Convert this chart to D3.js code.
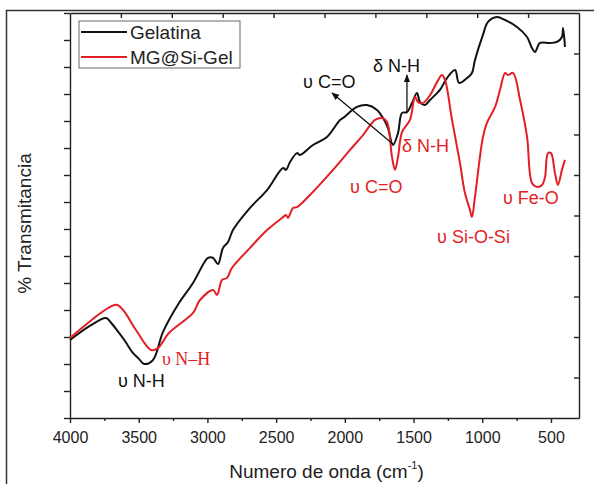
<!doctype html>
<html>
<head>
<meta charset="utf-8">
<title>FTIR Gelatina vs MG@Si-Gel</title>
<script src="https://cdn.jsdelivr.net/npm/d3@7"></script>
<style>
  body { margin: 0; background: #fff; }
  svg { font-family: "Liberation Sans", Arial, sans-serif; }
  .axis path, .axis line { stroke: #222; stroke-width: 1.4; }
  .axis text { font-size: 16px; fill: #222; }
</style>
</head>
<body>
<div id="chart-area"></div>
<script>
// Data (wavenumber in cm-1, transmittance in arbitrary units 0-150)
var seriesNames = ["Gelatina", "MG@Si-Gel"];

var gelWave = [4000, 3847, 3738, 3700, 3643, 3600, 3542, 3500, 3461, 3396, 3323, 3207, 3105, 3025, 2996, 2959, 2923, 2887, 2850, 2814,
    2690, 2566, 2450, 2428, 2399, 2348, 2326, 2232, 2130, 2035, 2013, 1912, 1839, 1766, 1722, 1686, 1650, 1613, 1584,
    1548, 1511, 1475, 1453, 1417, 1380, 1308, 1257, 1198, 1169, 1111, 1075, 1053, 995, 958, 893, 834, 747, 674, 638,
    616, 580, 507, 456, 420, 412, 398];
var gelT = [28.9, 34.4, 37.0, 35.2, 31.5, 28.5, 24.1, 22.0, 20.0, 21.5, 31.9, 42.6, 50.0, 57.4, 59.3, 59.3, 57.0, 63.0, 65.2, 69.6,
    77.8, 84.4, 92.6, 91.9, 94.8, 98.1, 97.4, 101.1, 104.1, 110.4, 111.1, 115.2, 115.9, 114.1, 111.1, 107.4, 101.1, 105.6, 113.0,
    113.3, 116.7, 120.4, 117.0, 115.9, 117.8, 121.5, 125.9, 128.9, 124.1, 125.9, 127.8, 132.6, 141.9, 146.7, 148.5, 147.4, 144.8, 141.1, 137.0,
    135.6, 138.9, 138.9, 139.3, 141.1, 144.4, 137.4];

var mgWave = [4000, 3665, 3614, 3520, 3411, 3360, 3280, 3105, 3054, 2959, 2930, 2894, 2858, 2821, 2690, 2566, 2450, 2428, 2414,
    2377, 2348, 2254, 2086, 1962, 1868, 1780, 1729, 1693, 1657, 1635, 1613, 1584, 1526, 1489, 1467, 1431, 1380, 1329,
    1293, 1271, 1220, 1162, 1126, 1089, 1075, 1053, 995, 966, 907, 871, 834, 813, 776, 725, 674, 638, 602, 565, 543,
    522, 500, 471, 449, 420, 398];
var mgT = [29.6, 41.9, 40.0, 32.6, 25.2, 25.9, 31.5, 38.9, 43.7, 47.4, 45.6, 51.1, 51.9, 55.6, 63.0, 69.6, 74.4, 75.2, 74.1,
    77.8, 78.1, 82.6, 91.9, 99.3, 104.8, 110.4, 111.1, 109.6, 96.7, 91.9, 96.7, 105.9, 110.4, 118.9, 117.0, 116.7, 119.6, 124.4,
    127.0, 125.2, 110.4, 94.4, 83.3, 77.0, 74.4, 81.9, 104.1, 109.3, 115.2, 121.5, 127.8, 127.0, 127.8, 117.8, 104.1, 87.0, 85.6, 86.3, 89.3,
    98.1, 98.1, 90.7, 86.3, 91.9, 95.6];

var xTicks = [4000, 3500, 3000, 2500, 2000, 1500, 1000, 500];
var xMinorTicks = [3750, 3250, 2750, 2250, 1750, 1250, 750];

// band labels: text, wavenumber where the label starts, value of its baseline, series index
var bandText = ["\u03C5 C=O", "\u03B4 N-H", "\u03B4 N-H", "\u03C5 C=O", "\u03C5 Si-O-Si", "\u03C5 Fe-O", "\u03C5 N-H", "\u03C5 N\u2013H"];
var bandWave = [2304, 1795, 1584, 1962, 1329, 849, 3651, 3331];
var bandT = [122.2, 128.1, 98.5, 83.3, 64.8, 79.3, 11.5, 19.6];
var bandSeries = [0, 0, 1, 1, 1, 1, 0, 1];

// arrows: from [wave, T] to [wave, T]
var arrowFrom = [[1642, 101.1], [1548, 113.3]];
var arrowTo = [[2093, 120.4], [1548, 127.0]];

var W = 594, H = 484;
var margin = { left: 70, right: 15, top: 13, bottom: 66 };
var width = W - margin.left - margin.right,
    height = H - margin.top - margin.bottom;

var colors = ["#111111", "#e41e25"];

var svg = d3.select("#chart-area").append("svg").attr("width", W).attr("height", H);

// outer frame
svg.append("path").attr("d", "M6.5," + H + " L6.5,10.5 L" + W + ",10.5")
    .attr("fill", "none").attr("stroke", "#333").attr("stroke-width", 1.5);

var g = svg.append("g").attr("transform", "translate(" + margin.left + "," + margin.top + ")");

var defs = svg.append("defs");
defs.append("marker").attr("id", "arrowhead").attr("viewBox", "0 0 10 10")
    .attr("refX", 9).attr("refY", 5).attr("markerWidth", 8).attr("markerHeight", 8)
    .attr("markerUnits", "userSpaceOnUse").attr("orient", "auto")
    .append("path").attr("d", "M0,1 L10,5 L0,9 Z").attr("fill", "#111");

// Scales
var x = d3.scaleLinear().domain([4000, 296]).range([0, width]);
var y = d3.scaleLinear().domain([0, 150]).range([height, 0]);
var xTop = d3.scaleLinear().domain([0, 10]).range([0, width]);
var yRight = d3.scaleLinear().domain([0, 10]).range([height, 0]);

// Axes
var xAxisCall = d3.axisBottom(x).tickValues(xTicks).tickSizeInner(5).tickSizeOuter(0).tickPadding(9).tickFormat(d3.format("d"));
g.append("g").attr("class", "x axis").attr("transform", "translate(0," + height + ")").call(xAxisCall);
g.append("g").attr("class", "x axis minor").attr("transform", "translate(0," + height + ")")
    .call(d3.axisBottom(x).tickValues(xMinorTicks).tickSizeInner(3).tickSizeOuter(0).tickFormat(""))
    .select(".domain").remove();

g.append("g").attr("class", "x axis top")
    .call(d3.axisTop(xTop).tickValues(d3.range(1, 10)).tickSizeInner(-5).tickSizeOuter(0).tickFormat(""));

var yAxisCall = d3.axisLeft(y).tickValues(d3.range(0, 151, 10)).tickSizeInner(6).tickSizeOuter(0).tickFormat("");
g.append("g").attr("class", "y axis").call(yAxisCall);

g.append("g").attr("class", "y axis right").attr("transform", "translate(" + width + ",0)")
    .call(d3.axisRight(yRight).tickValues(d3.range(1, 10)).tickSizeInner(-5).tickSizeOuter(0).tickFormat(""));

// Lines
var line = d3.line()
    .curve(d3.curveCatmullRom.alpha(0.5))
    .x(function(d){ return x(d[0]); })
    .y(function(d){ return y(d[1]); });

var gelData = d3.zip(gelWave, gelT);
var mgData = d3.zip(mgWave, mgT);

[gelData, mgData].forEach(function(data, i){
    g.append("path").datum(data)
        .attr("fill", "none")
        .attr("stroke", colors[i])
        .attr("stroke-width", 2)
        .attr("stroke-linejoin", "round")
        .attr("d", line);
});

// Arrows
arrowFrom.forEach(function(p, i){
    g.append("line")
        .attr("x1", x(p[0])).attr("y1", y(p[1]))
        .attr("x2", x(arrowTo[i][0])).attr("y2", y(arrowTo[i][1]))
        .attr("stroke", "#111").attr("stroke-width", 1.3)
        .attr("marker-end", "url(#arrowhead)");
});

// Band labels
bandText.forEach(function(t, i){
    g.append("text")
        .attr("x", x(bandWave[i]))
        .attr("y", y(bandT[i]))
        .attr("font-size", "18px")
        .attr("font-family", i === 7 ? "'Liberation Serif', 'Times New Roman', serif" : null)
        .attr("fill", colors[bandSeries[i]])
        .text(t);
});

// Legend
var legend = g.append("g").attr("transform", "translate(9,8)");
legend.append("rect").attr("width", 161).attr("height", 47)
    .attr("fill", "#fff").attr("stroke", "#666").attr("stroke-width", 1);
seriesNames.forEach(function(name, i){
    var row = legend.append("g").attr("transform", "translate(0," + (11 + i * 25) + ")");
    row.append("line").attr("x1", 2).attr("x2", 48).attr("y1", 0).attr("y2", 0)
        .attr("stroke", colors[i]).attr("stroke-width", 2);
    row.append("text").attr("x", 51).attr("y", 7).attr("font-size", "19px").attr("fill", "#222").text(name);
});

// Axis labels
svg.append("text")
    .attr("transform", "translate(31," + (margin.top + height / 2 + 8) + ") rotate(-90)")
    .attr("text-anchor", "middle").attr("font-size", "19px").attr("fill", "#222")
    .text("% Transmitancia");

var xLabel = svg.append("text")
    .attr("x", margin.left + width / 2 + 2).attr("y", 478)
    .attr("text-anchor", "middle").attr("font-size", "19px").attr("fill", "#222");
xLabel.append("tspan").text("Numero de onda (cm");
xLabel.append("tspan").attr("font-size", "11px").attr("dy", -9).text("-1");
xLabel.append("tspan").attr("dy", 9).text(")");
</script>
</body>
</html>
